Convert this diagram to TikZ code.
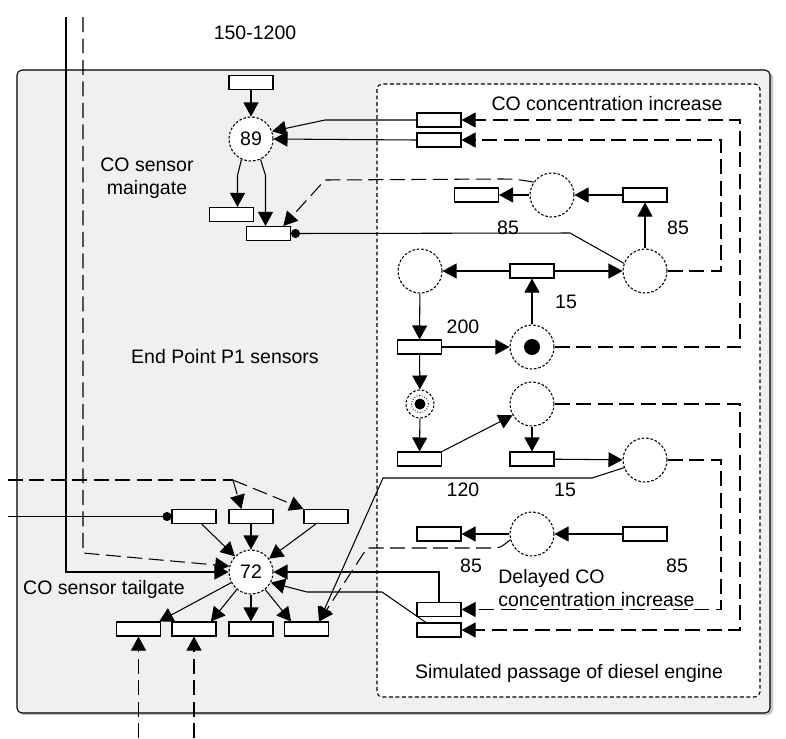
\documentclass[tikz,border=0pt]{standalone}
\usepackage{fontspec}
\setmainfont{Liberation Sans}
\usetikzlibrary{arrows.meta}
\tikzset{
  trans/.style={draw, fill=white, minimum width=0.88cm, minimum height=0.28cm, inner sep=0pt},
  place/.style={draw, circle, fill=white, dash pattern=on 1.5pt off 1pt, minimum size=0.88cm, inner sep=0pt},
  dsh/.style={dash pattern=on 0.3cm off 0.13cm},
  dotend/.style={-{Circle[length=0.18cm]}},
}
\begin{document}
\begin{tikzpicture}[x=0.02cm, y=-0.02cm, >={Triangle[length=0.28cm,width=0.3cm]}, line width=0.6pt, font=\fontsize{11.1}{13.3}\selectfont]
\useasboundingbox (0,0) rectangle (786,738);
% frames
\fill[gray!45, rounded corners=0.1cm] (19,72) rectangle (773,715);
\draw[fill=gray!12, rounded corners=0.1cm] (17,70) rectangle (770,713);
\draw[fill=white, rounded corners=0.1cm, dash pattern=on 2.2pt off 1.5pt] (377,84) rectangle (760,697);

% CO sensor maingate
\node[trans] (t89a) at (251,82.5) {};
\node[place] (p89) at (251,139) {89};
\node[trans] (t89b) at (231.5,214.5) {};
\node[trans] (t89c) at (268.5,233.5) {};

% simulated passage
\node[trans] (ta) at (439,120) {};
\node[trans] (tb) at (439,140) {};
\node[trans] (tc) at (476.5,195) {};
\node[place] (pc) at (552,195) {};
\node[trans] (td) at (645,195) {};
\node[place] (pe) at (420,271) {};
\node[trans] (tf) at (532,271) {};
\node[place] (pf) at (645,271) {};
\node[trans] (th) at (419.5,347) {};
\node[place] (pg) at (532,347) {};
\fill (pg) circle (0.16cm);
\node[place, minimum size=0.56cm] (pi) at (420,404) {};
\draw[densely dotted, line width=0.5pt] (pi) circle (0.17cm);
\fill (pi) circle (0.11cm);
\node[trans] (tj) at (419.5,459) {};
\node[place] (pk) at (532,404) {};
\node[trans] (tl) at (532,459) {};
\node[place] (pm) at (645,460) {};
\node[trans] (tn) at (439,534) {};
\node[place] (po) at (532,534) {};
\node[trans] (tr) at (645,534) {};
\node[trans] (tp) at (439,609.5) {};
\node[trans] (tq) at (439,630) {};

% CO sensor tailgate
\node[place] (p72) at (251,572) {72};
\node[trans] (u1) at (194,516.5) {};
\node[trans] (u2) at (251,516.5) {};
\node[trans] (u3) at (326,516.5) {};
\node[trans] (d1) at (138.5,629) {};
\node[trans] (d2) at (194,629) {};
\node[trans] (d3) at (251,629) {};
\node[trans] (d4) at (306.5,629) {};

% texts
\node (lrange) at (255,33) {150-1200};
\node[align=center] (lmain) at (147,178) {CO sensor\\maingate};
\node (lend) at (225,357) {End Point P1 sensors};
\node (ltail) at (104,589) {CO sensor tailgate};
\node (linc) at (607,104) {CO concentration increase};
\node[align=left, anchor=west] (ldel) at (492,588) {Delayed CO\\concentration increase};
\node (lsim) at (569,673) {Simulated passage of diesel engine};
\node (n85a) at (508,228) {85};
\node (n85b) at (678,228) {85};
\node (n15a) at (566,302) {15};
\node (n200) at (463,327) {200};
\node (n120) at (463,490) {120};
\node (n15b) at (565,490) {15};
\node (n85c) at (471,566) {85};
\node (n85d) at (677,566) {85};

% maingate arcs
\draw[->] (t89a) -- (p89);
\draw[->] (p89.245) -- ++(-4,16) coordinate (k1) -- (k1 |- t89b.north);
\draw[->] (p89.295) -- ++(5,16) coordinate (k2) -- (k2 |- t89c.north);
\draw[->] (ta.west) -- (325,120) -- (p89.20);
\draw[->] (tb.west) -- (p89.east);
\draw[dsh,->] (pc.145) .. controls (515,179) .. (495,179) -- (325,180) -- (t89c.27);
\draw[dotend] (pf.160) -- (570,233) -- (t89c.east);

% upper loop
\draw[->] (pf) -- (td);
\draw[->] (td) -- (pc);
\draw[->] (pc) -- (tc);
\draw[->] (tf) -- (pe);
\draw[->] (tf) -- (pf);
\draw[->] (pg) -- (tf);
\draw[->] (pe) -- (th);
\draw[->] (th) -- (pg);
\draw[->] (th) -- (pi);
\draw[->] (pi) -- (tj);
\draw[->] (tj.north east) -- (pk.210);
\draw[->] (pk) -- (tl);
\draw[->] (tl) -- (pm);
\draw[->] (tr) -- (po);
\draw[->] (po) -- (tn);
\draw[dsh,->] (pg.east) -- (740,347) |- (ta.east);
\draw[dsh,->] (pf.east) -- (721,271) |- (tb.east);
\draw[dsh,->] (pk.east) -- (740,404) |- (tq.east);
\draw[dsh,->] (pm.east) -- (721,460) |- (tp.east);

% tailgate arcs
\draw[->] (tp.north) |- (p72.east);
\draw[->] (tq.150) -- (382,592) -- (307,592) -- (p72.-28);
\draw[->] (pm.200) -- (592,478) -- (383,478) -- (d4.31);
\draw[dsh,->] (po.195) .. controls (500,548) .. (490,548) -- (367,548) -- (d4.31);
\draw[->] (66,17) |- (p72.west);
\draw[dsh,->] (83,17) -- (83,553) -- (p72.165);
\draw[dotend] (8,516.5) -- (u1.west);
\coordinate (s) at (233,480);
\draw[dsh] (8,480) -- (s);
\draw[dsh,->] (s) -- (u2.142);
\draw[dsh,->] (s) -- (u3.north west);
\draw[->] (u1) -- (p72);
\draw[->] (u2) -- (p72);
\draw[->] (u3) -- (p72);
\draw[->] (p72) -- (d1.20);
\draw[->] (p72) -- (d2.24);
\draw[->] (p72) -- (d3);
\draw[->] (p72) -- (d4.154);
\draw[dsh,->] (138.5,738) -- (d1.south);
\draw[dsh,->] (194,738) -- (d2.south);
\end{tikzpicture}
\end{document}
